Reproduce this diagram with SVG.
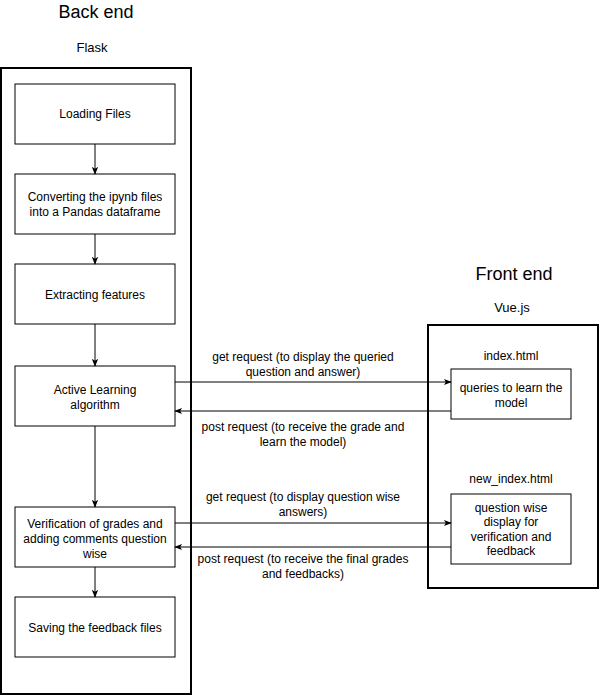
<svg xmlns="http://www.w3.org/2000/svg" width="600" height="696" viewBox="0 0 600 696">
<style>
text{font-family:"Liberation Sans",Arial,sans-serif;fill:#000;text-anchor:middle}
.n{font-size:12px}
.t{font-size:18px}
.s{font-size:13px}
.box{fill:#fff;stroke:#000;stroke-width:1}
.cont{fill:#fff;stroke:#000;stroke-width:2}
.c{stroke:#000;stroke-width:1;fill:none;marker-end:url(#a)}
</style>
<defs>
<marker id="a" viewBox="0 0 10 10" refX="9" refY="5" markerWidth="8" markerHeight="8" markerUnits="userSpaceOnUse" orient="auto">
<path d="M0,1 L10,5 L0,9 L2.5,5 Z" fill="#000"/>
</marker>
</defs>
<rect width="600" height="696" fill="#fff"/>
<g id="backend">
<text class="t" x="96" y="18">Back end</text>
<text class="s" x="92" y="52">Flask</text>
<rect class="cont" x="1" y="68" width="190" height="626"/>
</g>
<g id="frontend">
<text class="t" x="514" y="280">Front end</text>
<text class="s" x="512" y="312">Vue.js</text>
<rect class="cont" x="428" y="325" width="170" height="263"/>
</g>
<g id="loading"><rect class="box" x="15" y="84" width="160" height="60"/><text class="n" x="95" y="118">Loading Files</text></g>
<g id="converting"><rect class="box" x="15" y="174" width="160" height="60"/><text class="n" x="95" y="201">Converting the ipynb files</text><text class="n" x="95" y="216">into a Pandas dataframe</text></g>
<g id="extracting"><rect class="box" x="15" y="264" width="160" height="60"/><text class="n" x="95" y="299">Extracting features</text></g>
<g id="active"><rect class="box" x="15" y="366" width="160" height="60"/><text class="n" x="95" y="394">Active Learning</text><text class="n" x="95" y="409">algorithm</text></g>
<g id="verification"><rect class="box" x="15" y="507" width="160" height="60"/><text class="n" x="95" y="528">Verification of grades and</text><text class="n" x="95" y="543">adding comments question</text><text class="n" x="95" y="558">wise</text></g>
<g id="saving"><rect class="box" x="15" y="597" width="160" height="60"/><text class="n" x="95" y="632">Saving the feedback files</text></g>
<g id="index">
<text class="n" x="511" y="360">index.html</text>
<rect class="box" x="451" y="369" width="120" height="50"/><text class="n" x="511" y="392">queries to learn the</text><text class="n" x="511" y="407">model</text>
</g>
<g id="newindex">
<text class="n" x="511" y="483">new_index.html</text>
<rect class="box" x="451" y="494" width="120" height="70"/><text class="n" x="511" y="512">question wise</text><text class="n" x="511" y="526">display for</text><text class="n" x="511" y="541">verification and</text><text class="n" x="511" y="555">feedback</text>
</g>
<g id="connectors">
<line class="c" x1="95" y1="144" x2="95" y2="174"/>
<line class="c" x1="95" y1="234" x2="95" y2="264"/>
<line class="c" x1="95" y1="324" x2="95" y2="366"/>
<line class="c" x1="95" y1="426" x2="95" y2="507"/>
<line class="c" x1="95" y1="567" x2="95" y2="597"/>
<line class="c" x1="175" y1="382" x2="451" y2="382"/>
<line class="c" x1="451" y1="411" x2="175" y2="411"/>
<line class="c" x1="175" y1="523" x2="451" y2="523"/>
<line class="c" x1="451" y1="547" x2="175" y2="547"/>
<text class="n" x="303" y="361">get request (to display the queried</text>
<text class="n" x="303" y="376">question and answer)</text>
<text class="n" x="303" y="431">post request (to receive the grade and</text>
<text class="n" x="303" y="446">learn the model)</text>
<text class="n" x="303" y="501">get request (to display question wise</text>
<text class="n" x="303" y="516">answers)</text>
<text class="n" x="303" y="563">post request (to receive the final grades</text>
<text class="n" x="303" y="578">and feedbacks)</text>
</g>
</svg>
